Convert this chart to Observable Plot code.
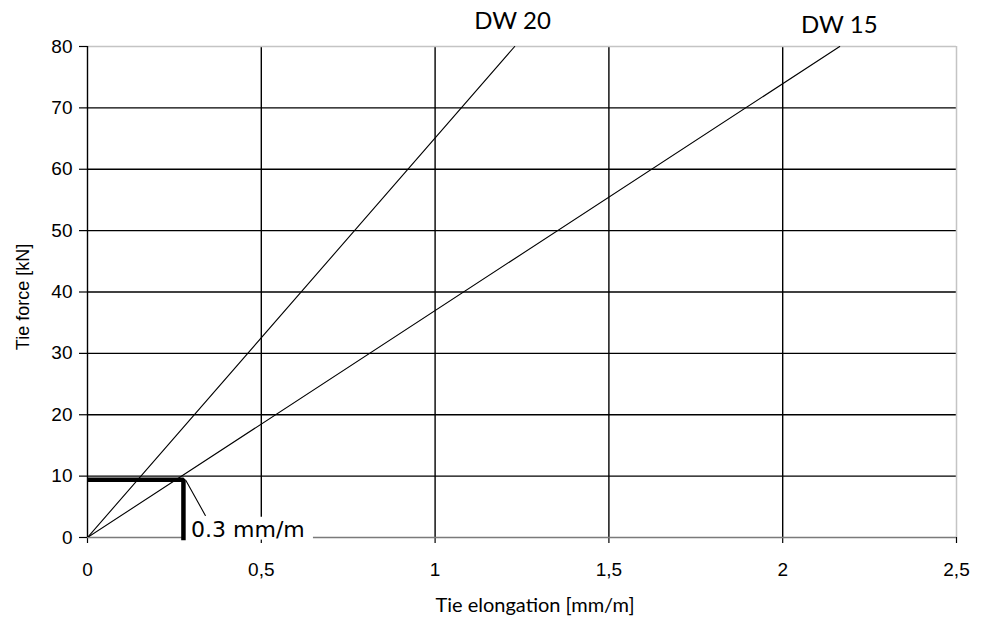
<!DOCTYPE html>
<html>
<head>
<meta charset="utf-8">
<script src="https://cdn.jsdelivr.net/npm/d3@7"></script>
<script src="https://cdn.jsdelivr.net/npm/@observablehq/plot@0.6"></script>
<style>
  html, body { margin: 0; padding: 0; background: #fff; }
</style>
</head>
<body>
<div id="chart"></div>
<script>
// ---- data ----
const xTicks = [0, 0.5, 1, 1.5, 2, 2.5];
const yTicks = [0, 10, 20, 30, 40, 50, 60, 70, 80];
const seriesNames = ["DW 20", "DW 15"];
const startElongation = [0, 0];        // mm/m at 0 kN
const endElongation = [1.229, 2.164];  // mm/m at 80 kN
const startForce = [0, 0];
const endForce = [80, 80];
// series label positions (data units)
const labelX = [1.223, 2.163];
const labelY = [84.1, 83.4];
// annotation: 0.3 mm/m reading
const markElong = [0, 0.276, 0.276];
const markForce = [9.4, 9.4, -0.45];
const leaderElong = [0.283, 0.339];
const leaderForce = [9.3, 3.6];
const noteText = "0.3 mm/m";
const noteX = 0.298, noteY = 1.2;
const noteBox = {x1: 0.282, x2: 0.65, y1: -0.42, y2: 3.3};

const series = seriesNames.map((name, i) => [
  {name, x: startElongation[i], y: startForce[i]},
  {name, x: endElongation[i], y: endForce[i]}
]).flat();
const labels = seriesNames.map((name, i) => ({name, x: labelX[i], y: labelY[i]}));
const markPath = markElong.map((x, i) => ({x, y: markForce[i]}));
const leaderPath = leaderElong.map((x, i) => ({x, y: leaderForce[i]}));

const chart = Plot.plot({
  width: 986,
  height: 625,
  marginLeft: 87,
  marginRight: 30,
  marginTop: 46,
  marginBottom: 88,
  style: {fontFamily: "'Liberation Sans', Arial, sans-serif", fontSize: "19px", color: "#000", background: "#fff"},
  x: {domain: [0, 2.5]},
  y: {domain: [0, 80]},
  marks: [
    Plot.ruleY(yTicks.filter(d => d > 0 && d < 80), {stroke: "#000", strokeWidth: 1.4}),
    Plot.ruleX(xTicks.filter(d => d > 0 && d < 2.5), {stroke: "#000", strokeWidth: 1.4}),
    Plot.ruleY([80], {stroke: "#c4c4c4", strokeWidth: 1.5}),
    Plot.ruleX([2.5], {stroke: "#c4c4c4", strokeWidth: 1.5}),
    Plot.axisY({ticks: yTicks, tickSize: 8, tickPadding: 7, label: null, stroke: "#000", strokeWidth: 1.2,
                fontSize: 19, fontFamily: "'Liberation Sans', Arial, sans-serif"}),
    Plot.axisX({ticks: xTicks, tickSize: 6, tickPadding: 19, label: null, stroke: "#000", strokeWidth: 1.2,
                fontSize: 19, fontFamily: "'Liberation Sans', Arial, sans-serif",
                tickFormat: d => String(d).replace(".", ",")}),
    Plot.ruleY([0], {stroke: "#7a7a7a", strokeWidth: 1.5}),
    Plot.ruleX([0], {stroke: "#000", strokeWidth: 1.4}),
    Plot.rect([noteBox], {x1: "x1", x2: "x2", y1: "y1", y2: "y2", fill: "#fff"}),
    Plot.line(series, {x: "x", y: "y", z: "name", stroke: "#000", strokeWidth: 1.1, clip: true}),
    Plot.line(markPath, {x: "x", y: "y", stroke: "#000", strokeWidth: 4.5, strokeLinejoin: "miter", strokeLinecap: "butt"}),
    Plot.line(leaderPath, {x: "x", y: "y", stroke: "#000", strokeWidth: 1.1}),
    Plot.text([noteText], {x: noteX, y: noteY, text: d => d, textAnchor: "start",
               fontFamily: "'DejaVu Sans', sans-serif", fontSize: 22}),
    Plot.text(labels, {x: "x", y: "y", text: "name", fontFamily: "Lato, sans-serif", fontSize: 24}),
    Plot.text(["Tie elongation [mm/m]"], {frameAnchor: "bottom", dy: 68, dx: 13, text: d => d,
               textAnchor: "middle", lineAnchor: "middle",
               fontFamily: "Lato, sans-serif", fontSize: 20}),
    Plot.text(["Tie force [kN]"], {frameAnchor: "left", dx: -64, dy: 5, rotate: -90, text: d => d,
               textAnchor: "middle", lineAnchor: "middle",
               fontFamily: "'Liberation Sans', Arial, sans-serif", fontSize: 18})
  ]
});
document.getElementById("chart").appendChild(chart);
</script>
</body>
</html>
